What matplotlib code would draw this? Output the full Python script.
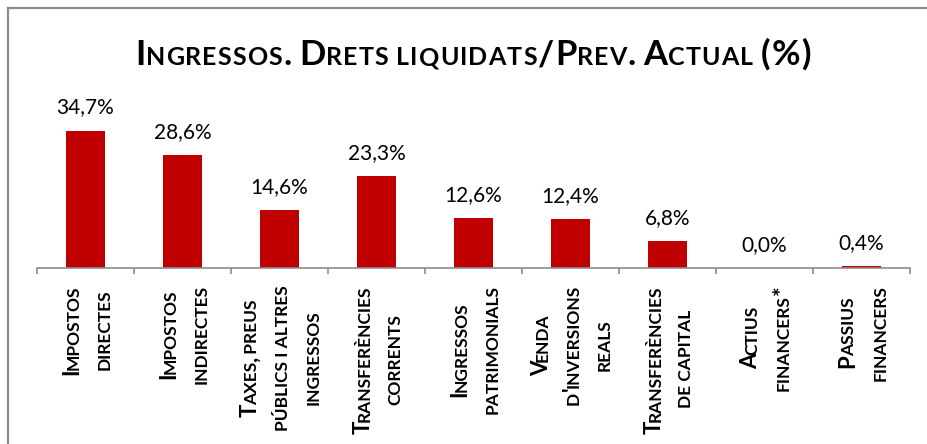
import matplotlib.pyplot as plt
from matplotlib.font_manager import FontProperties
from matplotlib.lines import Line2D
from matplotlib.transforms import IdentityTransform

FONT = "Lato"

title = "Ingressos. Drets liquidats/Prev. Actual (%)"
tick_lines = [
    ["Impostos", "directes"],
    ["Impostos", "indirectes"],
    ["Taxes, preus", "públics i altres", "ingressos"],
    ["Transferències", "corrents"],
    ["Ingressos", "patrimonials"],
    ["Venda", "d'inversions", "reals"],
    ["Transferències", "de capital"],
    ["Actius", "financers*"],
    ["Passius", "financers"],
]
values = [34.7, 28.6, 14.6, 23.3, 12.6, 12.4, 6.8, 0.0, 0.4]
value_labels = ["34,7%", "28,6%", "14,6%", "23,3%", "12,6%", "12,4%", "6,8%", "0,0%", "0,4%"]

bar_color = "#C00000"
gray = "#8C8C8C"

W, H = 928, 444
fig = plt.figure(figsize=(W / 100, H / 100), dpi=100)
ax = fig.add_axes([37 / W, 176 / H, 873 / W, 158 / H])

x = range(len(values))
ax.bar(x, values, width=0.4, color=bar_color, zorder=2)
for xi, v, lab in zip(x, values, value_labels):
    ax.annotate(lab, (xi, v), xytext=(0, 12.5), textcoords="offset points",
                ha="center", va="baseline", fontsize=15, family=FONT,
                color="black", annotation_clip=False)

ax.set_xlim(-0.5, len(values) - 0.5)
ax.set_ylim(0, 40)
for side in ["left", "right", "top"]:
    ax.spines[side].set_visible(False)
ax.spines["bottom"].set_color(gray)
ax.spines["bottom"].set_linewidth(1.2)
ax.set_yticks([])
ax.set_xticks([i - 0.5 for i in range(len(values) + 1)])
ax.set_xticklabels([])
ax.tick_params(axis="x", direction="out", length=4, width=1.2, color=gray)

# chart border (only left and top edges are visible in the picture)
fig.add_artist(Line2D([8.5 / W, 8.5 / W], [0, 435.5 / H], color=gray, lw=1.6))
fig.add_artist(Line2D([8.5 / W, 1], [435.5 / H, 435.5 / H], color=gray, lw=1.6))

renderer = fig.canvas.get_renderer()


def small_caps(text, big, small):
    # lowercase letters and spaces get the small size, the rest stays big
    runs = []
    for ch in text:
        size = small if (ch.islower() or ch == " ") else big
        if runs and runs[-1][1] == size:
            runs[-1][0] += ch.upper()
        else:
            runs.append([ch.upper(), size])
    return runs


def run_width(text, size, weight):
    prop = FontProperties(family=FONT, size=size, weight=weight)
    w1 = renderer.get_text_width_height_descent("|" + text + "|", prop, ismath=False)[0]
    w0 = renderer.get_text_width_height_descent("||", prop, ismath=False)[0]
    return w1 - w0


def split_chars(runs):
    return [[ch, s] for t, s in runs for ch in t]


def advances(runs, weight, track=0, kern=0):
    # start offset of every run, tightening a little where the size drops
    pos, out = 0, []
    prev = None
    for text, size in runs:
        if prev is not None and size < prev:
            pos -= kern
        out.append(pos)
        pos += run_width(text, size, weight) + track
        prev = size
    return out, pos - track


def draw_runs(runs, x0, y0, weight, vertical=False, track=0, kern=0):
    offs, _ = advances(runs, weight, track, kern)
    for (text, size), p in zip(runs, offs):
        if vertical:
            fig.text(x0, y0 + p, text, fontsize=size, fontweight=weight,
                     family=FONT, rotation=90, rotation_mode="anchor",
                     ha="left", va="baseline", transform=IdentityTransform())
        else:
            fig.text(x0 + p, y0, text, fontsize=size, fontweight=weight,
                     family=FONT, ha="left", va="baseline",
                     transform=IdentityTransform())


# title, drawn letter by letter with a little tracking
t_runs = split_chars(small_caps(title, 25, 18))
tw = advances(t_runs, "bold", track=1.1, kern=1)[1]
draw_runs(t_runs, 473 - tw / 2, H - 65, "bold", track=1.1, kern=1)

# category labels, rotated, in small caps
block_top = H - 285
spacing = 31
for i, lines in enumerate(tick_lines):
    cx = ax.transData.transform((i, 0))[0]
    runs_list = [small_caps(line, 16, 12.5) for line in lines]
    widths = [advances(r, "bold", kern=1.5)[1] for r in runs_list]
    mid = block_top - max(widths) / 2
    n = len(lines)
    for k, (runs, w) in enumerate(zip(runs_list, widths)):
        bx = cx + (k - (n - 1) / 2) * spacing + 8.5
        draw_runs(runs, bx, mid - w / 2, "bold", vertical=True, kern=1.5)

fig.savefig("out.png", dpi=100)
